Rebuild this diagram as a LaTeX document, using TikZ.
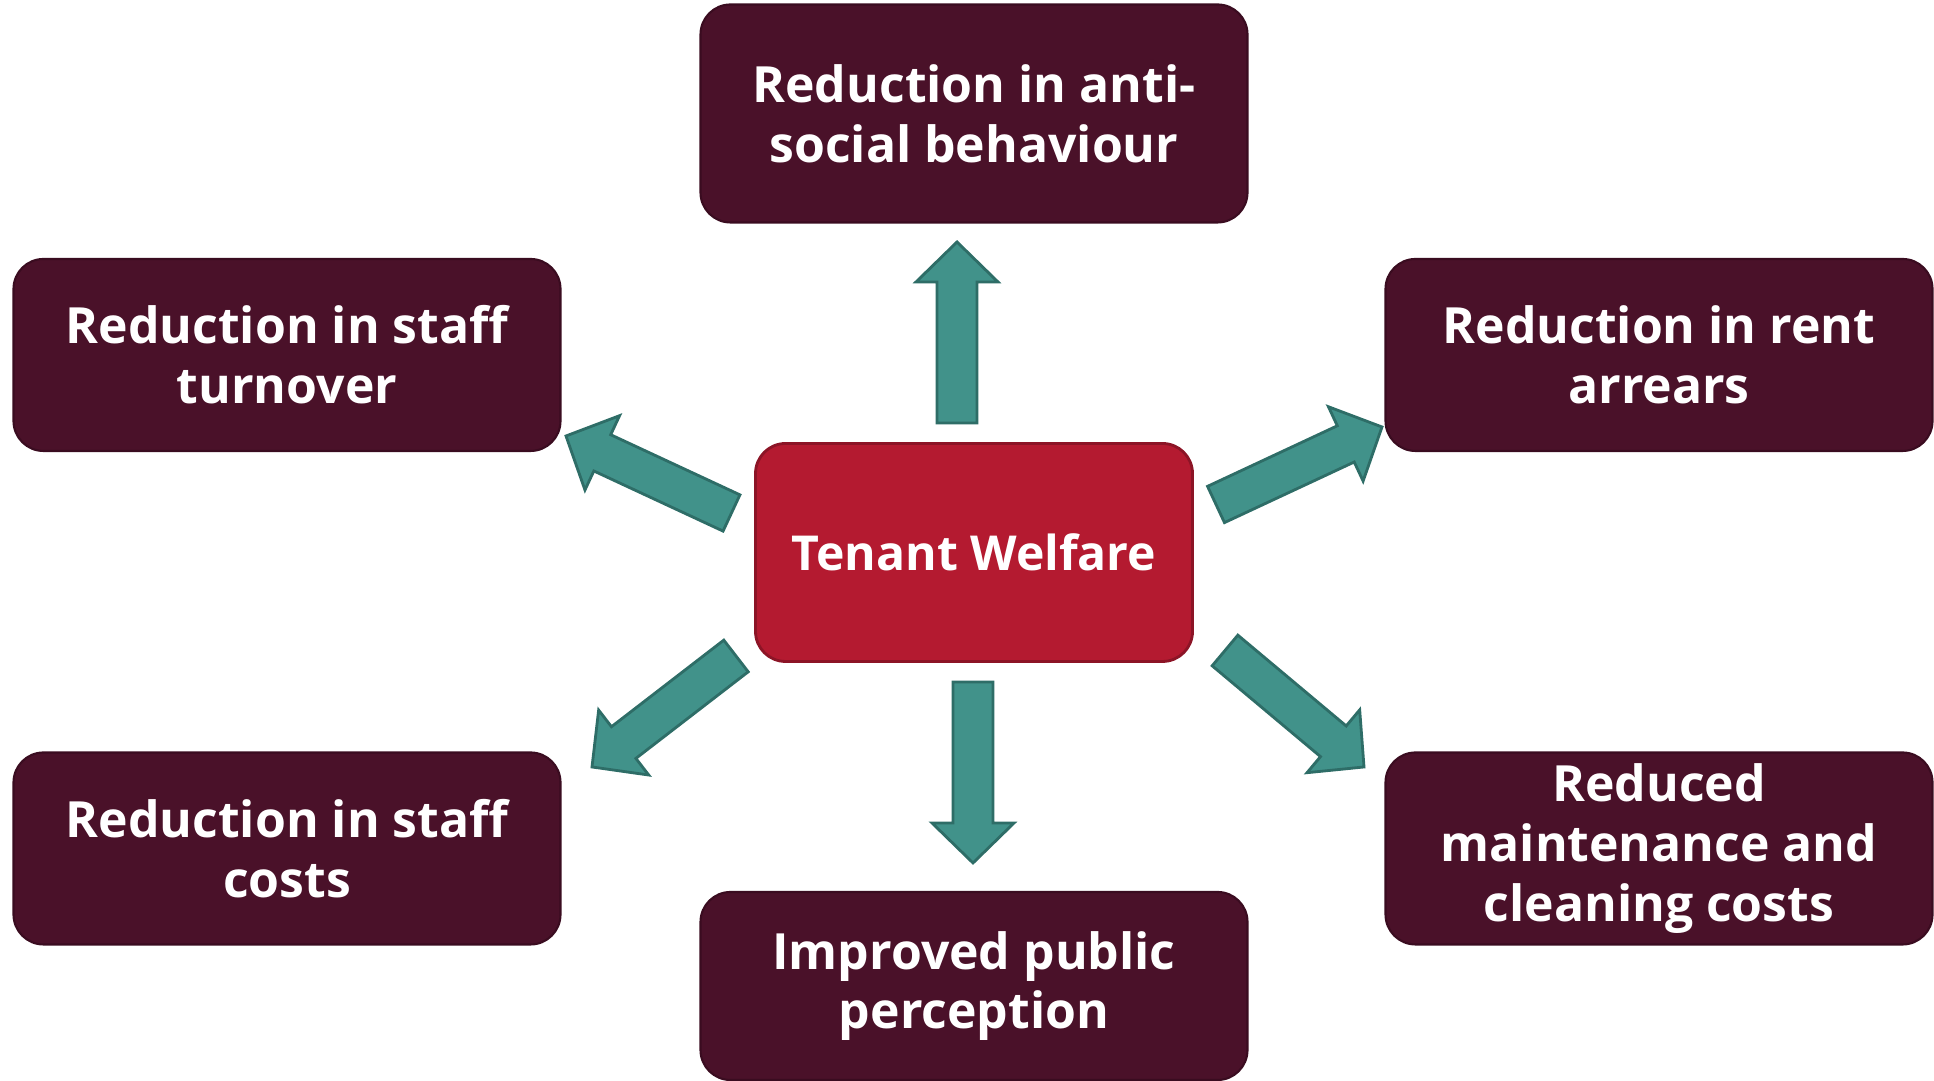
\documentclass[tikz,border=0pt]{standalone}
\usepackage{fontspec}
\setmainfont{Open Sans}
\usetikzlibrary{calc}
\definecolor{maroon}{HTML}{4A1129}
\definecolor{maroonline}{HTML}{3A0C20}
\definecolor{welfare}{HTML}{B41A30}
\definecolor{welfareline}{HTML}{8C1426}
\definecolor{teal}{HTML}{41928A}
\definecolor{tealline}{HTML}{2E6D67}
% block arrow from tail coordinate #1 to tip coordinate #2
\newcommand{\blockarrow}[2]{%
	\coordinate (hb) at ($(#2)!0.4cm!(#1)$);
	\draw[tarrow] ($(#1)!0.2cm!90:(#2)$)--($(hb)!0.2cm!90:(#2)$)--($(hb)!0.41cm!90:(#2)$)--(#2)
		--($(hb)!0.41cm!-90:(#2)$)--($(hb)!0.2cm!-90:(#2)$)--($(#1)!0.2cm!-90:(#2)$)--cycle;}
\begin{document}
\begin{tikzpicture}[font=\fontsize{14.2}{17}\selectfont\bfseries, line join=round,
		outcome/.style={draw=maroonline, fill=maroon, line width=0.6pt, rounded corners=0.3cm, text=white, align=center, inner sep=0pt, minimum width=5.47cm, minimum height=1.92cm},
		hub/.style={draw=welfareline, fill=welfare, line width=0.8pt, rounded corners=0.3cm, text=white, align=center, inner sep=0pt, minimum width=4.37cm, minimum height=2.18cm, font=\fontsize{13.7}{16}\selectfont\bfseries},
		tarrow/.style={draw=tealline, fill=teal, line width=0.8pt, line join=miter}]
	\useasboundingbox (0,0) rectangle (19.34,10.81);
	\node[hub] (tw) at (9.74,5.285) {Tenant Welfare};
	\node[outcome, minimum height=2.18cm] (asb) at (9.74,9.675) {Reduction in anti-\\social behaviour};
	\node[outcome] (turn) at (2.87,7.26) {Reduction in staff\\turnover};
	\node[outcome] (rent) at (16.59,7.26) {Reduction in rent\\arrears};
	\node[outcome] (cost) at (2.87,2.325) {Reduction in staff\\costs};
	\node[outcome] (maint) at (16.59,2.325) {Reduced\\maintenance and\\cleaning costs};
	\node[outcome, minimum height=1.88cm] (pub) at (9.74,0.95) {Improved public\\perception};
	% arrow ends
	\coordinate (upT) at (9.57,6.58);   \coordinate (upH) at (9.57,8.39);
	\coordinate (dnT) at (9.73,3.99);   \coordinate (dnH) at (9.73,2.18);
	\coordinate (ulT) at (7.315,5.68);  \coordinate (ulH) at (5.66,6.45);
	\coordinate (llT) at (7.36,4.25);   \coordinate (llH) at (5.92,3.14);
	\coordinate (urT) at (12.16,5.765); \coordinate (urH) at (13.82,6.54);
	\coordinate (lrT) at (12.25,4.305); \coordinate (lrH) at (13.64,3.14);
	\foreach \a in {up,dn,ul,ll,ur,lr} \blockarrow{\a T}{\a H};
\end{tikzpicture}
\end{document}
